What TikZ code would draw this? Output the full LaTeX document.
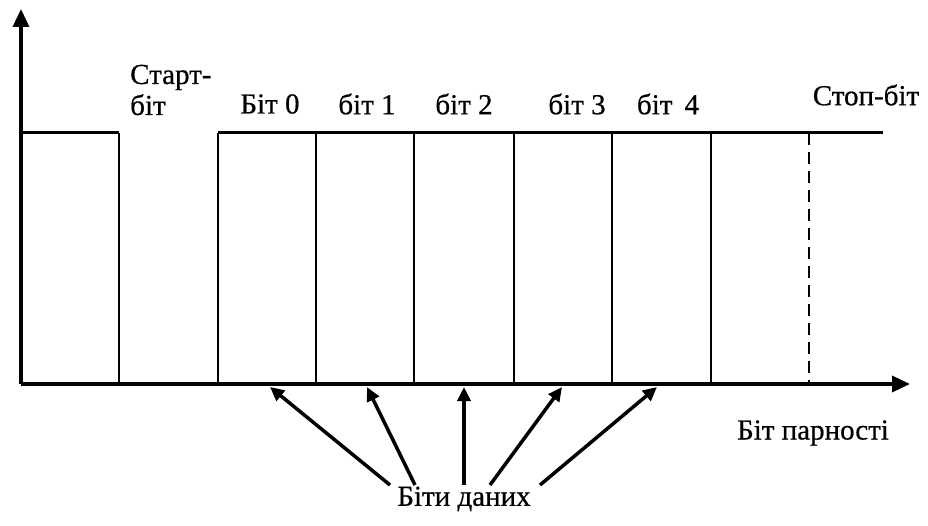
\documentclass[tikz,border=0pt]{standalone}
\usepackage{fontspec}
\setmainfont{Liberation Serif}
\usetikzlibrary{arrows.meta}
\begin{document}
\begin{tikzpicture}[x=1pt,y=-1pt,
  axis/.style={line width=3.5pt,-{Triangle[length=18pt,width=16pt]}},
  level/.style={line width=3pt},
  edgethin/.style={line width=1.8pt},
  edgethick/.style={line width=2.8pt},
  paritydash/.style={line width=2.8pt,dash pattern=on 12pt off 7pt},
  pointer/.style={line width=3.5pt,-{Triangle[length=14pt,width=13pt]}},
  lbl/.style={font=\fontsize{29}{31}\selectfont\addfontfeature{FakeBold=0.6},inner sep=0pt}]
\useasboundingbox (0,0) rectangle (928,526);

% axes
\coordinate (o) at (21,384);
\coordinate (ytip) at (21,9);
\coordinate (xtip) at (910,384);
\draw[axis] (o) -- (ytip);
\draw[axis] (o) -- (xtip);

% signal: idle high, start bit low, then data and parity bits high
\draw[level] (21,133) -- (119,133);
\draw[edgethin] (119,133) -- (119,384);
\draw[edgethick] (218,384) -- (218,133);
\draw[level] (218,133) -- (883,133);
\draw[edgethin] (316,133) -- (316,384);
\draw[edgethin] (414,133) -- (414,384);
\draw[edgethick] (514,133) -- (514,384);
\draw[edgethick] (612,133) -- (612,384);
\draw[edgethick] (711,133) -- (711,384);
\draw[paritydash] (809,133) -- (809,384);

% labels above the signal
\node[lbl,anchor=west,align=left] (start) at (130,90) {Старт-\\біт};
\node[lbl] (b0) at (270,104) {Біт 0};
\node[lbl] (b1) at (367,104) {біт 1};
\node[lbl] (b2) at (464,104) {біт 2};
\node[lbl] (b3) at (577,104) {біт 3};
\node[lbl] (b4) at (668,104) {біт\, 4};
\node[lbl] (stop) at (866,95) {Стоп-біт};
\node[lbl] (parity) at (813,433) {Біт парності};
\node[lbl] (data) at (464,499) {Біти даних};

% pointers from the data label to the data bits
\coordinate (t0) at (390,485);
\coordinate (t1) at (415,485);
\coordinate (t2) at (464,485);
\coordinate (t3) at (490,485);
\coordinate (t4) at (540,485);
\coordinate (h0) at (270,387);
\coordinate (h1) at (367,387);
\coordinate (h2) at (464,387);
\coordinate (h3) at (562,387);
\coordinate (h4) at (657,387);
\foreach \i in {0,...,4} \draw[pointer] (t\i) -- (h\i);
\end{tikzpicture}
\end{document}
